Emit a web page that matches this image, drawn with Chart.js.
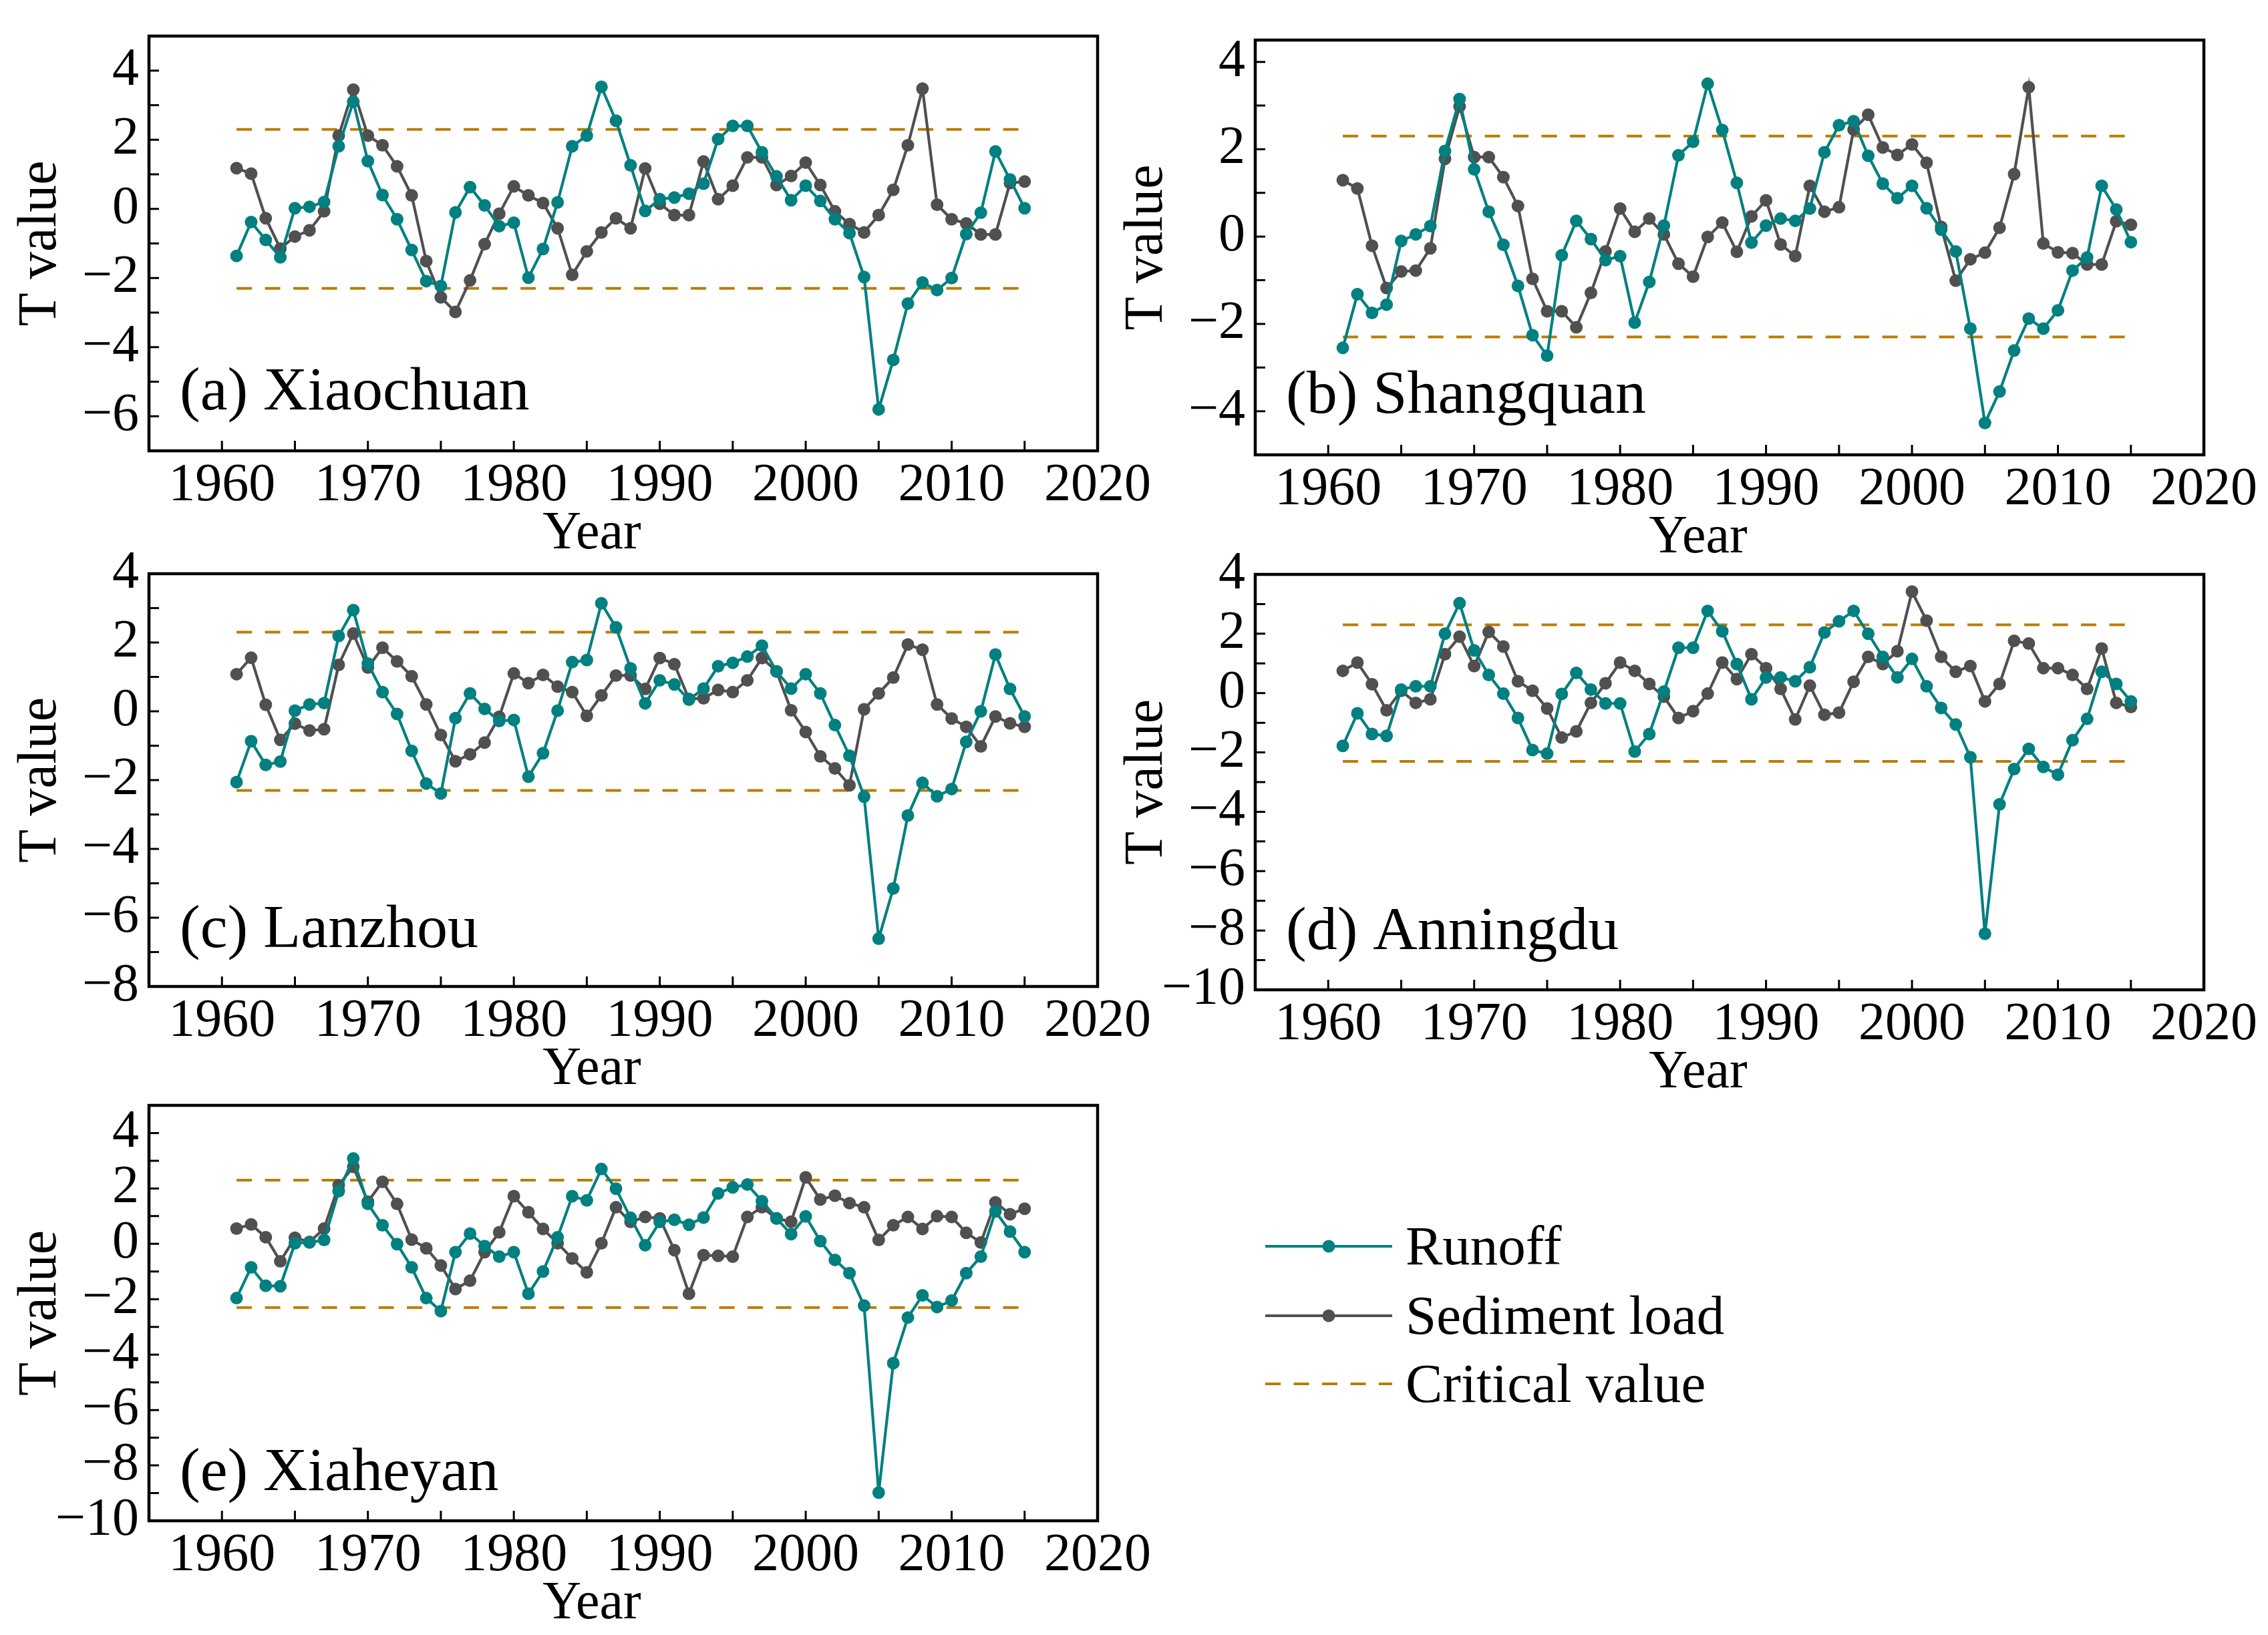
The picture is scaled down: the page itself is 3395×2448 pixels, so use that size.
<!DOCTYPE html>
<html>
<head>
<meta charset="utf-8">
<script src="https://cdn.jsdelivr.net/npm/chart.js@4.4.1/dist/chart.umd.min.js"></script>
<style>
    html, body { margin: 0; padding: 0; background: #fff; }
    body { width: 3395px; height: 2448px; position: relative; overflow: hidden; font-family: "Liberation Serif", "Times New Roman", serif; }
    .panel { position: absolute; }
    .legend-row { position: absolute; left: 1894px; height: 84px; }
    .legend-row span { position: absolute; left: 210px; top: 0; font-size: 83px; line-height: 1; white-space: nowrap; color: #000; }
</style>
</head>
<body>
<div class="panel" id="wrapA"><canvas id="chartA"></canvas></div>
<div class="panel" id="wrapB"><canvas id="chartB"></canvas></div>
<div class="panel" id="wrapC"><canvas id="chartC"></canvas></div>
<div class="panel" id="wrapD"><canvas id="chartD"></canvas></div>
<div class="panel" id="wrapE"><canvas id="chartE"></canvas></div>
<div id="legend"></div>

<script>
const years = [1961, 1962, 1963, 1964, 1965, 1966, 1967, 1968, 1969, 1970,
    1971, 1972, 1973, 1974, 1975, 1976, 1977, 1978, 1979, 1980,
    1981, 1982, 1983, 1984, 1985, 1986, 1987, 1988, 1989, 1990,
    1991, 1992, 1993, 1994, 1995, 1996, 1997, 1998, 1999, 2000,
    2001, 2002, 2003, 2004, 2005, 2006, 2007, 2008, 2009, 2010,
    2011, 2012, 2013, 2014, 2015];

const criticalValue = 2.3;

// (a) Xiaochuan
const runoffXiaochuan = [-1.36, -0.38, -0.9, -1.4, 0.02, 0.06, 0.2, 1.81, 3.1, 1.38,
    0.4, -0.3, -1.19, -2.09, -2.23, -0.1, 0.63, 0.1, -0.5, -0.4,
    -1.99, -1.16, 0.19, 1.81, 2.12, 3.53, 2.55, 1.26, -0.06, 0.28,
    0.33, 0.44, 0.73, 2.02, 2.4, 2.4, 1.64, 0.94, 0.25, 0.67,
    0.23, -0.3, -0.7, -1.97, -5.8, -4.37, -2.74, -2.13, -2.35, -2.0,
    -0.73, -0.11, 1.66, 0.85, 0.02];
const sedimentXiaochuan = [1.18, 1.02, -0.27, -1.15, -0.8, -0.62, -0.07, 2.12, 3.45, 2.12,
    1.84, 1.23, 0.39, -1.51, -2.56, -2.98, -2.07, -1.02, -0.14, 0.65,
    0.39, 0.17, -0.56, -1.91, -1.23, -0.68, -0.27, -0.56, 1.17, 0.15,
    -0.18, -0.18, 1.37, 0.28, 0.67, 1.49, 1.49, 0.69, 0.95, 1.34,
    0.69, -0.07, -0.44, -0.68, -0.18, 0.55, 1.84, 3.48, 0.12, -0.3,
    -0.42, -0.74, -0.74, 0.75, 0.79];

// (b) Shangquan
const runoffShangquan = [-2.55, -1.32, -1.75, -1.56, -0.1, 0.05, 0.24, 1.96, 3.15, 1.54,
    0.57, -0.19, -1.13, -2.26, -2.73, -0.43, 0.36, -0.06, -0.54, -0.45,
    -1.97, -1.04, 0.25, 1.86, 2.17, 3.5, 2.44, 1.23, -0.14, 0.25,
    0.41, 0.36, 0.64, 1.93, 2.55, 2.64, 1.85, 1.21, 0.88, 1.16,
    0.65, 0.16, -0.34, -2.11, -4.27, -3.55, -2.61, -1.88, -2.11, -1.69,
    -0.78, -0.48, 1.16, 0.62, -0.13];
const sedimentShangquan = [1.29, 1.1, -0.21, -1.18, -0.8, -0.78, -0.27, 1.78, 2.98, 1.82,
    1.82, 1.36, 0.7, -0.97, -1.71, -1.71, -2.08, -1.29, -0.34, 0.64,
    0.11, 0.41, 0.05, -0.62, -0.92, -0.01, 0.32, -0.35, 0.46, 0.83,
    -0.18, -0.45, 1.16, 0.57, 0.67, 2.45, 2.79, 2.04, 1.87, 2.11,
    1.69, 0.22, -1.01, -0.52, -0.37, 0.2, 1.43, 3.42, -0.16, -0.36,
    -0.38, -0.64, -0.64, 0.35, 0.27];

// (c) Lanzhou
const runoffLanzhou = [-2.06, -0.87, -1.56, -1.46, 0.02, 0.2, 0.24, 2.19, 2.94, 1.39,
    0.56, -0.08, -1.15, -2.1, -2.39, -0.2, 0.52, 0.07, -0.28, -0.25,
    -1.9, -1.22, 0.02, 1.43, 1.49, 3.14, 2.44, 1.25, 0.23, 0.9,
    0.78, 0.34, 0.66, 1.31, 1.41, 1.59, 1.91, 1.16, 0.66, 1.08,
    0.52, -0.4, -1.29, -2.48, -6.61, -5.15, -3.03, -2.08, -2.47, -2.26,
    -0.89, 0.0, 1.65, 0.65, -0.15];
const sedimentLanzhou = [1.08, 1.56, 0.19, -0.83, -0.36, -0.56, -0.52, 1.35, 2.26, 1.27,
    1.85, 1.45, 1.02, 0.2, -0.69, -1.45, -1.25, -0.91, -0.16, 1.1,
    0.82, 1.06, 0.72, 0.56, -0.13, 0.46, 1.04, 1.04, 0.65, 1.55,
    1.37, 0.36, 0.38, 0.62, 0.56, 0.9, 1.55, 1.16, 0.03, -0.6,
    -1.31, -1.66, -2.15, 0.06, 0.52, 0.98, 1.94, 1.79, 0.2, -0.21,
    -0.45, -1.02, -0.15, -0.35, -0.45];

// (d) Anningdu
const runoffAnningdu = [-1.78, -0.68, -1.38, -1.44, 0.12, 0.23, 0.23, 2.0, 3.03, 1.44,
    0.61, -0.02, -0.84, -1.92, -2.04, -0.03, 0.68, 0.12, -0.35, -0.35,
    -1.97, -1.38, 0.05, 1.53, 1.53, 2.77, 2.08, 0.98, -0.21, 0.52,
    0.53, 0.4, 0.87, 2.04, 2.42, 2.77, 2.0, 1.22, 0.53, 1.15,
    0.23, -0.5, -1.06, -2.16, -8.11, -3.75, -2.56, -1.88, -2.49, -2.75,
    -1.59, -0.87, 0.72, 0.31, -0.28];
const sedimentAnningdu = [0.75, 1.03, 0.3, -0.58, 0.08, -0.33, -0.21, 1.31, 1.9, 0.91,
    2.06, 1.57, 0.4, 0.08, -0.52, -1.5, -1.29, -0.33, 0.33, 1.03,
    0.75, 0.31, -0.12, -0.84, -0.61, -0.02, 1.03, 0.47, 1.31, 0.84,
    0.14, -0.89, 0.25, -0.73, -0.66, 0.38, 1.22, 0.98, 1.41, 3.42,
    2.44, 1.22, 0.72, 0.91, -0.28, 0.31, 1.76, 1.67, 0.84, 0.84,
    0.61, 0.14, 1.5, -0.33, -0.47];

// (e) Xiaheyan
const runoffXiaheyan = [-1.96, -0.85, -1.51, -1.53, 0.02, 0.05, 0.14, 1.9, 3.08, 1.44,
    0.67, -0.01, -0.85, -1.96, -2.43, -0.3, 0.37, -0.08, -0.46, -0.3,
    -1.8, -1.0, 0.24, 1.72, 1.57, 2.7, 1.99, 0.94, -0.05, 0.79,
    0.87, 0.69, 0.95, 1.82, 2.04, 2.14, 1.54, 0.92, 0.35, 0.99,
    0.1, -0.58, -1.06, -2.23, -8.98, -4.31, -2.66, -1.86, -2.28, -2.05,
    -1.06, -0.46, 1.17, 0.44, -0.3];
const sedimentXiaheyan = [0.55, 0.7, 0.24, -0.63, 0.22, 0.07, 0.55, 2.12, 2.78, 1.52,
    2.24, 1.44, 0.15, -0.16, -0.78, -1.63, -1.33, -0.3, 0.42, 1.72,
    1.14, 0.54, 0.02, -0.53, -1.03, 0.02, 1.32, 0.79, 0.97, 0.92,
    -0.23, -1.8, -0.41, -0.43, -0.46, 0.97, 1.32, 0.92, 0.8, 2.4,
    1.6, 1.74, 1.47, 1.32, 0.14, 0.67, 0.97, 0.54, 1.0, 0.97,
    0.4, 0.05, 1.5, 1.07, 1.27];

const seriesNames = ['Runoff', 'Sediment load', 'Critical value'];

const TEAL = '#008080';
const GREY = '#505050';
const GOLD = '#b97d00';
const FONT = '"Liberation Serif", "Times New Roman", serif';

// panel placement on the page
const panels = [
    { id: 'A', label: '(a) Xiaochuan', runoff: runoffXiaochuan, sediment: sedimentXiaochuan, yMin: -7, yMax: 5,   left: 0,    top: 0,    plotH: 621, labelDrop: 62 },
    { id: 'B', label: '(b) Shangquan', runoff: runoffShangquan, sediment: sedimentShangquan, yMin: -5, yMax: 4.5, left: 1656, top: 6,    plotH: 621, labelDrop: 63 },
    { id: 'C', label: '(c) Lanzhou',   runoff: runoffLanzhou,   sediment: sedimentLanzhou,   yMin: -8, yMax: 4,   left: 0,    top: 805,  plotH: 618, labelDrop: 59 },
    { id: 'D', label: '(d) Anningdu',  runoff: runoffAnningdu,  sediment: sedimentAnningdu,  yMin: -10, yMax: 4,  left: 1656, top: 806,  plotH: 622, labelDrop: 61 },
    { id: 'E', label: '(e) Xiaheyan',  runoff: runoffXiaheyan,  sediment: sedimentXiaheyan,  yMin: -10, yMax: 5,  left: 0,    top: 1601, plotH: 622, labelDrop: 46 }
];

const PAD_TOP = 54;
const X_AXIS_H = 165;
const Y_AXIS_W = 223;
const PLOT_W = 1420;
const CANVAS_W = 1739;

function toPoints(xs, ys) {
    return xs.map((x, i) => ({ x: x, y: ys[i] }));
}

function fmtMinus(v) {
    return String(v).replace('-', '\u2212');
}

// box, inward ticks, panel name and the x title
const frameTicksPlugin = {
    id: 'frameTicks',
    afterDraw(chart, args, opts) {
        const { ctx, chartArea: a, scales } = chart;
        const x = scales.x, y = scales.y;
        ctx.save();
        ctx.strokeStyle = '#000';
        ctx.lineWidth = 3;
        ctx.beginPath();
        x.ticks.forEach(t => {
            const px = x.getPixelForValue(t.value);
            ctx.moveTo(px, a.bottom);
            ctx.lineTo(px, a.bottom - 15);
        });
        y.ticks.forEach(t => {
            const py = y.getPixelForValue(t.value);
            ctx.moveTo(a.left, py);
            ctx.lineTo(a.left + 15, py);
        });
        ctx.stroke();
        ctx.lineWidth = 4.5;
        ctx.strokeRect(a.left, a.top, a.right - a.left, a.bottom - a.top);

        ctx.fillStyle = '#000';
        ctx.font = '92px ' + FONT;
        ctx.textAlign = 'left';
        ctx.textBaseline = 'alphabetic';
        ctx.fillText(opts.label, a.left + 46, a.bottom - opts.labelDrop);

        ctx.font = '80px ' + FONT;
        ctx.textAlign = 'center';
        ctx.textBaseline = 'middle';
        ctx.fillText('Year', (a.left + a.right) / 2 - 47, a.bottom + 125);
        ctx.restore();
    }
};

function buildPanel(p) {
    const wrap = document.getElementById('wrap' + p.id);
    const canvasH = PAD_TOP + p.plotH + X_AXIS_H;
    wrap.style.left = p.left + 'px';
    wrap.style.top = p.top + 'px';
    const canvas = document.getElementById('chart' + p.id);
    canvas.width = CANVAS_W;
    canvas.height = canvasH;
    canvas.style.width = CANVAS_W + 'px';
    canvas.style.height = canvasH + 'px';

    const first = years[0], last = years[years.length - 1];
    const lineStyle = (color) => ({
        borderColor: color,
        backgroundColor: color,
        borderWidth: 4.2,
        pointRadius: 9.5,
        pointHoverRadius: 9.5,
        pointBorderWidth: 0,
        tension: 0
    });
    const dashStyle = {
        borderColor: GOLD,
        borderWidth: 4,
        borderDash: [23, 19.5],
        pointRadius: 0
    };

    return new Chart(canvas.getContext('2d'), {
        type: 'line',
        data: {
            datasets: [
                { label: seriesNames[0], data: toPoints(years, p.runoff), ...lineStyle(TEAL) },
                { label: seriesNames[1], data: toPoints(years, p.sediment), ...lineStyle(GREY) },
                { label: seriesNames[2], data: [{ x: first, y: criticalValue }, { x: last, y: criticalValue }], ...dashStyle },
                { label: seriesNames[2] + ' (lower)', data: [{ x: first, y: -criticalValue }, { x: last, y: -criticalValue }], ...dashStyle }
            ]
        },
        options: {
            responsive: false,
            animation: false,
            devicePixelRatio: 1,
            layout: { padding: { top: PAD_TOP, right: CANVAS_W - Y_AXIS_W - PLOT_W, bottom: 0, left: 0 } },
            plugins: {
                legend: { display: false },
                tooltip: { enabled: false },
                frameTicks: { label: p.label, labelDrop: p.labelDrop }
            },
            scales: {
                x: {
                    type: 'linear',
                    min: 1955,
                    max: 2020,
                    grid: { display: false, drawTicks: false },
                    border: { display: false },
                    ticks: {
                        stepSize: 5,
                        autoSkip: false,
                        maxRotation: 0,
                        padding: 13,
                        color: '#000',
                        font: { family: FONT, size: 80, lineHeight: 1 },
                        callback: v => (v % 10 === 0 && v >= 1960) ? String(v) : ''
                    },
                    title: { display: false },
                    afterFit: s => {
                        s.height = X_AXIS_H;
                        s.paddingLeft = 0;
                        s.paddingRight = 0;
                    }
                },
                y: {
                    type: 'linear',
                    min: p.yMin,
                    max: p.yMax,
                    grid: { display: false, drawTicks: false },
                    border: { display: false },
                    ticks: {
                        stepSize: 1,
                        autoSkip: false,
                        includeBounds: false,
                        maxTicksLimit: 100,
                        padding: 15,
                        color: '#000',
                        font: { family: FONT, size: 80, lineHeight: 1 },
                        callback: v => (Number.isInteger(v) && v % 2 === 0) ? fmtMinus(v) : ''
                    },
                    title: {
                        display: true,
                        text: 'T value',
                        color: '#000',
                        font: { family: FONT, size: 82, lineHeight: 1 },
                        padding: { top: 20, bottom: 0 }
                    },
                    afterFit: s => {
                        s.width = Y_AXIS_W;
                        s.paddingTop = 0;
                        s.paddingBottom = 0;
                    }
                }
            }
        },
        plugins: [frameTicksPlugin]
    });
}

function buildLegend() {
    const legend = document.getElementById('legend');
    const rowCenters = [1866, 1970, 2072];
    const styles = [
        { color: TEAL, dash: null, dot: true },
        { color: GREY, dash: null, dot: true },
        { color: GOLD, dash: '23 19.5', dot: false }
    ];
    seriesNames.forEach((name, i) => {
        const st = styles[i];
        const row = document.createElement('div');
        row.className = 'legend-row';
        row.style.top = (rowCenters[i] - 42) + 'px';
        const dash = st.dash ? ` stroke-dasharray="${st.dash}"` : '';
        const dot = st.dot ? `<circle cx="95" cy="42" r="9.5" fill="${st.color}"/>` : '';
        row.innerHTML =
            `<svg width="192" height="84" style="position:absolute;left:0;top:0">` +
            `<line x1="0" y1="42" x2="190" y2="42" stroke="${st.color}" stroke-width="4.2"${dash}/>` +
            dot + `</svg><span>${name}</span>`;
        legend.appendChild(row);
    });
}

function init() {
    Chart.defaults.font.family = FONT;
    panels.forEach(buildPanel);
    buildLegend();
}

document.fonts.load('80px "Liberation Serif"').catch(() => {}).then(init);
</script>
</body>
</html>
